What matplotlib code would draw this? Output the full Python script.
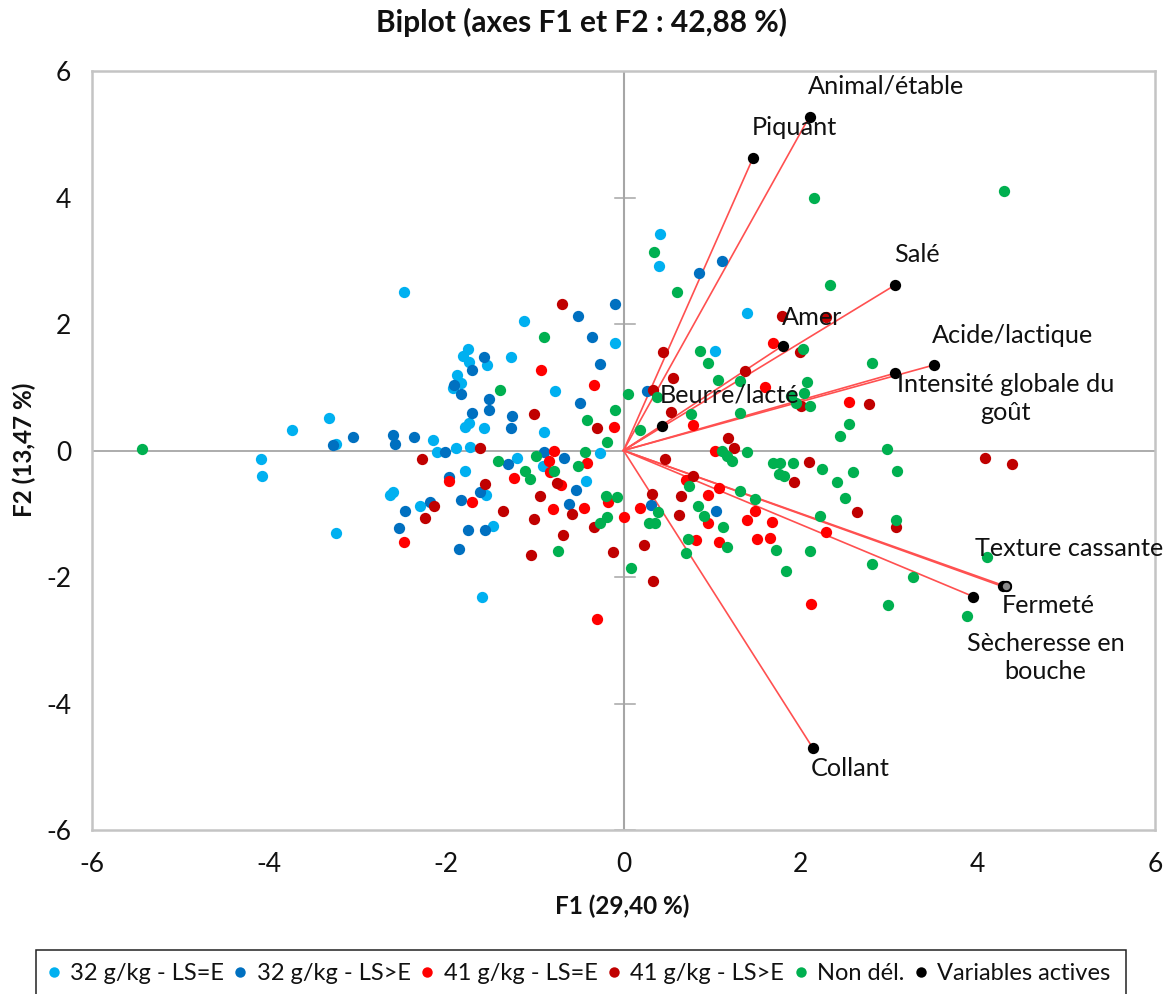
import matplotlib
matplotlib.use("Agg")
import matplotlib.pyplot as plt
from matplotlib.patches import Rectangle
from matplotlib.lines import Line2D

plt.rcParams['font.family'] = ['Lato', 'DejaVu Sans']
plt.rcParams['axes.unicode_minus'] = False

W, H = 1168, 994

# 32 g/kg - LS=E
lb_x = [-4.09,-4.08,-3.74,-3.33,-3.25,-3.24,-2.48,-1.12,-1.75,-1.81,-1.74,-1.54,-1.27,-1.88,-1.83,-1.93,
        -0.77,-0.10,-1.74,-1.79,-1.58,-0.90,-2.15,-2.11,-1.89,-1.73,-1.20,-0.27,-0.91,-1.79,-2.64,-2.60,
        -2.30,-1.55,-0.42,-1.47,-1.60,0.41,0.40,1.39,1.03]
lb_y = [-0.14,-0.41,0.32,0.51,0.11,-1.31,2.50,2.04,1.60,1.49,1.40,1.35,1.48,1.19,1.06,0.99,
        0.94,1.70,0.44,0.37,0.35,0.30,0.16,-0.02,0.04,0.06,-0.12,-0.04,-0.25,-0.33,-0.70,-0.65,
        -0.88,-0.71,-0.48,-1.19,-2.31,3.43,2.91,2.17,1.58]

# 32 g/kg - LS>E
db_x = [-3.28,-3.05,-0.10,-0.51,-0.36,-0.27,-1.57,-1.71,-1.91,-1.84,-1.52,-1.52,-0.49,-1.71,-1.26,-1.27,
        -2.60,-2.58,-2.36,-2.01,-0.90,-0.67,-1.30,-1.97,-2.19,-2.47,-2.53,-1.83,-1.62,-1.75,-1.56,-1.86,
        -0.54,-0.62,1.11,0.85,0.27,0.31,1.04]
db_y = [0.08,0.22,2.32,2.13,1.80,1.37,1.48,1.27,1.04,0.89,0.82,0.64,0.75,0.59,0.54,0.35,
        0.25,0.11,0.22,-0.03,-0.02,-0.12,-0.22,-0.42,-0.81,-0.96,-1.22,-0.79,-0.66,-1.25,-1.25,-1.55,
        -0.62,-0.85,3.00,2.81,0.94,-0.86,-0.96]

# 41 g/kg - LS=E
r_x = [-0.93,-0.33,-0.11,-0.78,-0.84,-0.41,-1.97,-1.71,-2.48,-1.24,-0.83,-0.70,-0.80,-0.45,-0.18,0.01,
       -0.30,1.69,1.60,2.55,0.78,1.03,0.71,1.08,0.95,0.19,1.48,1.39,1.68,0.95,1.51,1.65,0.82,1.08,2.29,2.12]
r_y = [1.27,1.04,0.37,0.00,-0.17,-0.20,-0.48,-0.82,-1.45,-0.43,-0.34,-0.55,-0.93,-0.91,-0.81,-1.05,
       -2.66,1.70,1.01,0.77,0.40,0.00,-0.47,-0.60,-0.70,-0.91,-0.95,-1.10,-1.13,-1.15,-1.40,-1.38,-1.41,-1.45,-1.29,-2.42]

# 41 g/kg - LS>E
dr_x = [-0.69,-1.01,-0.30,-1.62,-2.27,-1.56,-2.14,-2.24,-1.36,-0.75,-0.94,-0.58,-1.01,-0.33,-0.68,-1.04,
        -0.12,1.79,2.29,0.45,1.99,0.56,1.37,0.33,0.54,2.00,2.77,1.18,1.25,0.47,2.09,0.79,0.32,0.65,0.63,
        0.23,0.33,1.92,2.64,3.08,4.08,4.39]
dr_y = [2.32,0.57,0.35,0.04,-0.14,-0.53,-0.88,-1.07,-0.95,-0.51,-0.72,-1.00,-1.09,-1.21,-1.33,-1.65,
        -1.61,2.13,2.11,1.56,1.55,1.15,1.26,0.96,0.61,0.70,0.73,0.20,0.04,-0.13,-0.18,-0.41,-0.69,-0.72,-1.02,
        -1.50,-2.07,-0.50,-0.98,-1.21,-0.12,-0.21]

# Non del.
g_x = [-5.43,-0.90,-1.39,0.05,-0.10,-0.41,-0.19,-0.44,-0.99,-1.42,-0.51,-1.11,-1.05,-0.78,-0.20,-0.07,
       -0.19,-0.27,-0.74,0.09,2.15,0.34,0.60,2.33,0.86,0.95,2.81,1.07,1.31,2.03,2.07,2.04,0.38,1.89,1.95,
       2.11,0.76,1.32,0.19,2.55,2.44,2.97,1.39,1.11,1.17,1.23,1.69,1.77,1.91,1.76,1.81,2.24,2.59,3.09,
       2.41,2.50,1.32,1.49,0.74,0.84,0.91,0.39,0.29,0.35,1.12,0.73,1.17,0.71,1.72,2.10,2.22,3.08,2.81,
       1.84,3.27,2.99,4.10,3.88,4.30]
g_y = [0.02,1.79,0.96,0.90,0.64,0.49,0.13,-0.03,-0.09,-0.17,-0.25,-0.33,-0.45,-0.33,-0.72,-0.74,
       -1.05,-1.14,-1.59,-1.86,4.00,3.14,2.50,2.62,1.58,1.39,1.39,1.12,1.10,1.60,1.08,0.91,0.85,0.86,0.75,
       0.70,0.58,0.60,0.32,0.42,0.23,0.03,-0.03,-0.01,-0.09,-0.17,-0.19,-0.20,-0.20,-0.37,-0.40,-0.29,-0.34,-0.33,
       -0.50,-0.75,-0.64,-0.77,-0.56,-0.87,-1.03,-0.98,-1.15,-1.15,-1.21,-1.40,-1.53,-1.62,-1.57,-1.59,-1.03,-1.10,-1.80,
       -1.91,-2.00,-2.45,-1.68,-2.61,4.11]

# Variables actives
var_names = ['Animal/étable', 'Piquant', 'Salé', 'Amer', 'Acide/lactique',
             'Intensité globale du\ngoût', 'Beurre/lacté', 'Texture cassante',
             'Fermeté', 'Sècheresse en\nbouche', 'Collant']
var_x = [2.10, 1.46, 3.07, 1.80, 3.50, 3.06, 0.43, 4.28, 4.32, 3.95, 2.14]
var_y = [5.28, 4.62, 2.62, 1.66, 1.35, 1.22, 0.38, -2.15, -2.15, -2.31, -4.71]
label_offsets = [(77, 31), (42, 31), (22, 30), (29, 28), (79, 30), (111, -25),
                 (68, 31), (66, 38), (42, -19), (72, -61), (37, -20)]

series = [('32 g/kg - LS=E', lb_x, lb_y, '#00b0f0'),
          ('32 g/kg - LS>E', db_x, db_y, '#0070c0'),
          ('41 g/kg - LS=E', r_x, r_y, '#ff0000'),
          ('41 g/kg - LS>E', dr_x, dr_y, '#c00000'),
          ('Non dél.', g_x, g_y, '#00b050'),
          ('Variables actives', var_x, var_y, '#000000')]

ticks = [-6, -4, -2, 0, 2, 4, 6]

fig = plt.figure(figsize=(W / 100, H / 100), dpi=100)
ax = fig.add_axes([92 / W, 1 - 830 / H, (1155 - 92) / W, (830 - 71) / H])
ax.set_xlim(-6, 6)
ax.set_ylim(-6, 6)
ax.set_xticks(ticks)
ax.set_yticks(ticks)
ax.tick_params(length=0, labelsize=19, labelcolor='#111111')
ax.tick_params(axis='x', pad=16)
ax.tick_params(axis='y', pad=15)
for s in ax.spines.values():
    s.set_color('#c4c4c4')
    s.set_linewidth(1.8)

ax.axhline(0, color='#a6a6a6', lw=1.3, zorder=1)
ax.axvline(0, color='#a6a6a6', lw=1.5, zorder=1)
for t in ticks:
    if t != 0:
        ax.plot([-0.1, 0.13], [t, t], color='#a6a6a6', lw=1.1, zorder=1)

for x, y in zip(var_x, var_y):
    ax.plot([0, x], [0, y], color='#ff5050', lw=1.2, zorder=2)

for name, x, y, c in series:
    ax.scatter(x, y, s=66, color=c, linewidths=0, zorder=3)

# the Fermete marker looks washed out in the source
ax.scatter(var_x[8], var_y[8], s=44, color='#8a8a8a', edgecolors='black', linewidths=1.3, zorder=4)

for name, x, y, off in zip(var_names, var_x, var_y, label_offsets):
    ax.annotate(name, (x, y), xytext=off, textcoords='offset pixels', ha='center', va='center',
                fontsize=18.2, color='#111111', linespacing=1.25, zorder=5)

fig.text(581 / W, 1 - 22 / H, 'Biplot (axes F1 et F2 : 42,88 %)', ha='center', va='center',
         fontsize=21.5, fontweight='bold', color='#111111')
fig.text(622 / W, 1 - 906 / H, 'F1 (29,40 %)', ha='center', va='center', fontsize=17.5, fontweight='bold',
         color='#111111')
fig.text(24 / W, 1 - 450 / H, 'F2 (13,47 %)', ha='center', va='center', rotation=90, fontsize=17.5,
         fontweight='bold', color='#111111')

# legend box runs off the bottom of the image
fig.add_artist(Rectangle((36 / W, -0.02), 1090 / W, 0.02 + 44 / H, transform=fig.transFigure,
                         fill=False, edgecolor='#222222', lw=1.1))
handles = [Line2D([], [], ls='', marker='o', ms=7.5, color=c, mew=0) for n, x, y, c in series]
fig.legend(handles, [s[0] for s in series], ncol=6, frameon=False, loc='center',
           bbox_to_anchor=(578 / W, 1 - 974 / H), fontsize=17, handlelength=0.7, handletextpad=0.35,
           columnspacing=0.34, borderpad=0, labelcolor='#111111')

fig.savefig('out.png', dpi=100)
